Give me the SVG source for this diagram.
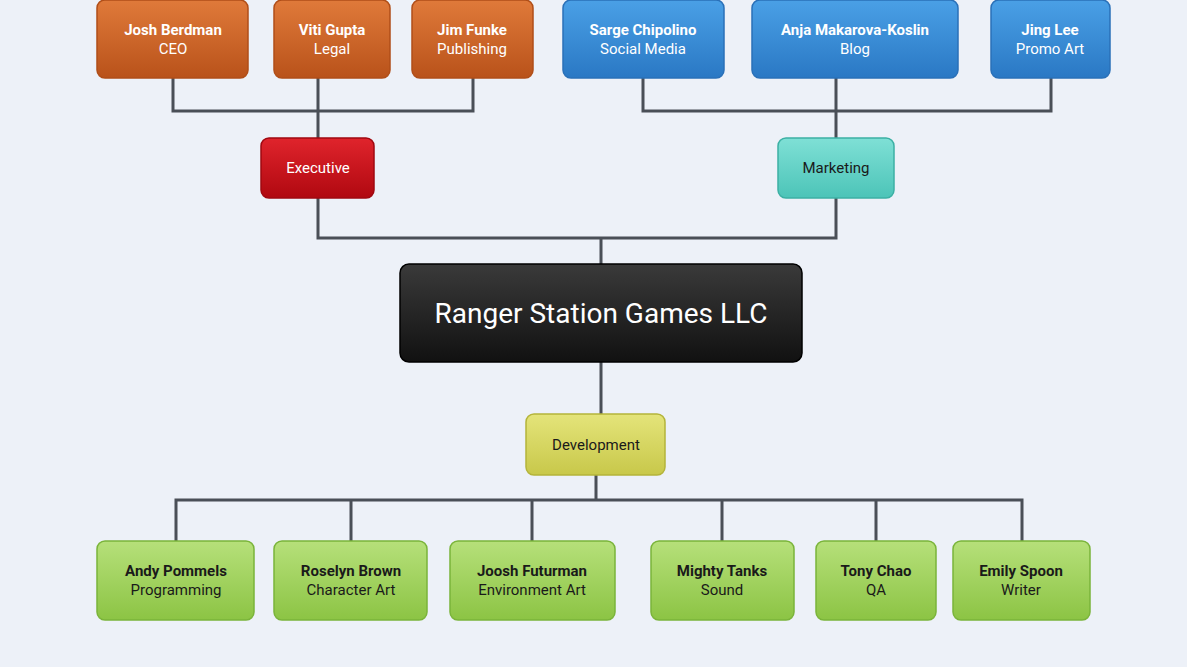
<svg xmlns="http://www.w3.org/2000/svg" width="1187" height="667" viewBox="0 0 1187 667">
<defs>
<linearGradient id="go" x1="0" y1="0" x2="0" y2="1"><stop offset="0" stop-color="#e07a3a"/><stop offset="1" stop-color="#b9521a"/></linearGradient>
<linearGradient id="gb" x1="0" y1="0" x2="0" y2="1"><stop offset="0" stop-color="#4aa0e6"/><stop offset="1" stop-color="#2a78c4"/></linearGradient>
<linearGradient id="gr" x1="0" y1="0" x2="0" y2="1"><stop offset="0" stop-color="#e0242c"/><stop offset="1" stop-color="#b00810"/></linearGradient>
<linearGradient id="gt" x1="0" y1="0" x2="0" y2="1"><stop offset="0" stop-color="#7fe0d6"/><stop offset="1" stop-color="#4cc4b8"/></linearGradient>
<linearGradient id="gk" x1="0" y1="0" x2="0" y2="1"><stop offset="0" stop-color="#3a3a3a"/><stop offset="1" stop-color="#111"/></linearGradient>
<linearGradient id="gy" x1="0" y1="0" x2="0" y2="1"><stop offset="0" stop-color="#e4e47a"/><stop offset="1" stop-color="#c8c84a"/></linearGradient>
<linearGradient id="gg" x1="0" y1="0" x2="0" y2="1"><stop offset="0" stop-color="#b6e07a"/><stop offset="1" stop-color="#8cc444"/></linearGradient>
</defs>
<style>
text{font-family:Roboto,"Liberation Sans",sans-serif;text-anchor:middle}
.n{font-weight:bold;font-size:15px}
.r{font-size:15px}
.w{fill:#fff}
.d{fill:#1a1a1a}
.c{fill:none;stroke:#4a4f57;stroke-width:3}
rect{stroke-width:1.5}
</style>
<rect width="1187" height="667" fill="#edf1f8"/>
<g id="connectors">
<path class="c" d="M173 78V111H473V78M318 78V138M643 78V111H1051V78M836 78V138M318 198V238H836V198M601 238V264M601 362V414M596 475V500M176 541V500H1022V541M351 500V541M532 500V541M722 500V541M876 500V541"/>
</g>
<g id="josh"><rect x="97" y="0" width="151" height="78" rx="8" fill="url(#go)" stroke="#b04e18"/><text class="n w" x="173" y="35">Josh Berdman</text><text class="r w" x="173" y="54">CEO</text></g>
<g id="viti"><rect x="274" y="0" width="116" height="78" rx="8" fill="url(#go)" stroke="#b04e18"/><text class="n w" x="332" y="35">Viti Gupta</text><text class="r w" x="332" y="54">Legal</text></g>
<g id="jim"><rect x="412" y="0" width="121" height="78" rx="8" fill="url(#go)" stroke="#b04e18"/><text class="n w" x="472" y="35">Jim Funke</text><text class="r w" x="472" y="54">Publishing</text></g>
<g id="sarge"><rect x="563" y="0" width="161" height="78" rx="8" fill="url(#gb)" stroke="#2a70b8"/><text class="n w" x="643" y="35">Sarge Chipolino</text><text class="r w" x="643" y="54">Social Media</text></g>
<g id="anja"><rect x="752" y="0" width="206" height="78" rx="8" fill="url(#gb)" stroke="#2a70b8"/><text class="n w" x="855" y="35">Anja Makarova-Koslin</text><text class="r w" x="855" y="54">Blog</text></g>
<g id="jing"><rect x="991" y="0" width="119" height="78" rx="8" fill="url(#gb)" stroke="#2a70b8"/><text class="n w" x="1050" y="35">Jing Lee</text><text class="r w" x="1050" y="54">Promo Art</text></g>
<g id="executive"><rect x="261" y="138" width="113" height="60" rx="8" fill="url(#gr)" stroke="#a00810"/><text class="r w" x="318" y="173">Executive</text></g>
<g id="marketing"><rect x="778" y="138" width="116" height="60" rx="8" fill="url(#gt)" stroke="#3cb0a4"/><text class="r d" x="836" y="173">Marketing</text></g>
<g id="main"><rect x="400" y="264" width="402" height="98" rx="9" fill="url(#gk)" stroke="#000"/><text x="601" y="323" style="font-size:28px;fill:#fff">Ranger Station Games LLC</text></g>
<g id="development"><rect x="526" y="414" width="139" height="61" rx="8" fill="url(#gy)" stroke="#b4b43a"/><text class="r d" x="596" y="450">Development</text></g>
<g id="andy"><rect x="97" y="541" width="157" height="79" rx="8" fill="url(#gg)" stroke="#7ab43a"/><text class="n d" x="176" y="576">Andy Pommels</text><text class="r d" x="176" y="595">Programming</text></g>
<g id="roselyn"><rect x="274" y="541" width="153" height="79" rx="8" fill="url(#gg)" stroke="#7ab43a"/><text class="n d" x="351" y="576">Roselyn Brown</text><text class="r d" x="351" y="595">Character Art</text></g>
<g id="joosh"><rect x="450" y="541" width="165" height="79" rx="8" fill="url(#gg)" stroke="#7ab43a"/><text class="n d" x="532" y="576">Joosh Futurman</text><text class="r d" x="532" y="595">Environment Art</text></g>
<g id="mighty"><rect x="651" y="541" width="143" height="79" rx="8" fill="url(#gg)" stroke="#7ab43a"/><text class="n d" x="722" y="576">Mighty Tanks</text><text class="r d" x="722" y="595">Sound</text></g>
<g id="tony"><rect x="816" y="541" width="120" height="79" rx="8" fill="url(#gg)" stroke="#7ab43a"/><text class="n d" x="876" y="576">Tony Chao</text><text class="r d" x="876" y="595">QA</text></g>
<g id="emily"><rect x="953" y="541" width="137" height="79" rx="8" fill="url(#gg)" stroke="#7ab43a"/><text class="n d" x="1021" y="576">Emily Spoon</text><text class="r d" x="1021" y="595">Writer</text></g>
</svg>
